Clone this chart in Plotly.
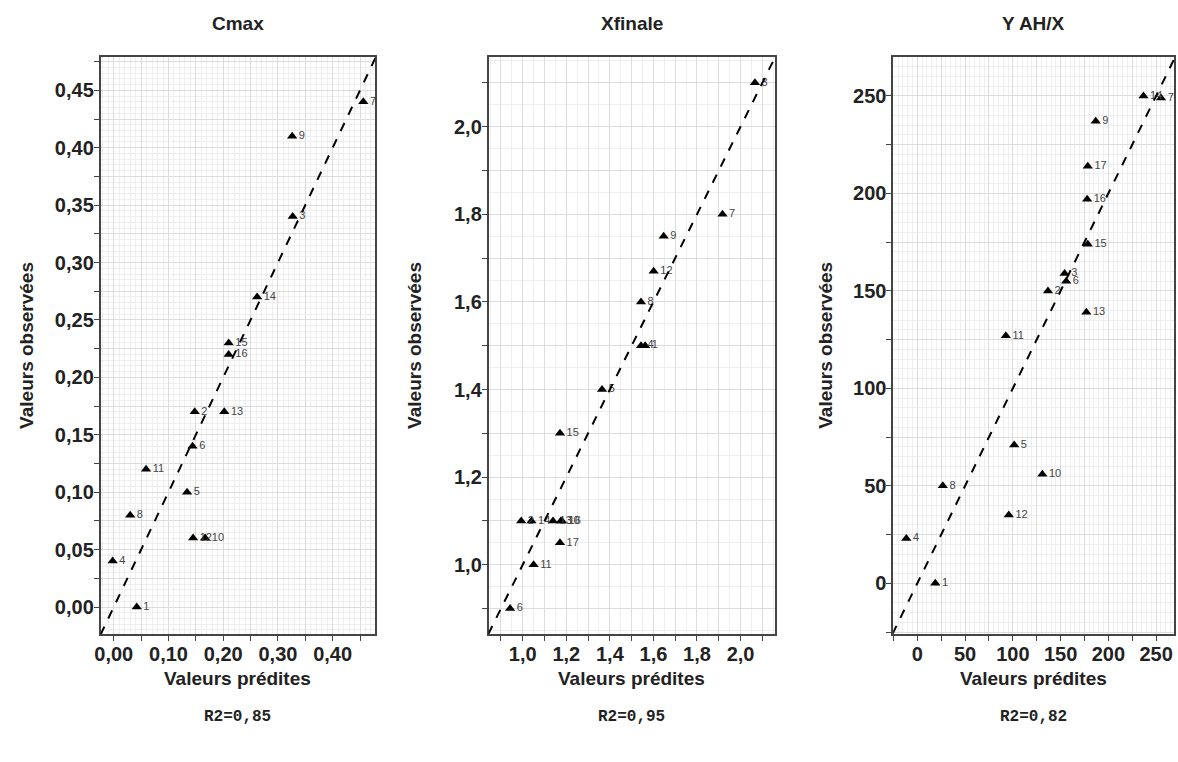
import plotly.graph_objects as go

# Cmax
cmax_ids = ["1", "2", "3", "4", "5", "6", "7", "8", "9", "10", "11", "12", "13", "14", "15", "16"]
cmax_pred = [0.042, 0.148, 0.327, -0.002, 0.134, 0.144, 0.456, 0.030, 0.326, 0.167, 0.059, 0.145, 0.202, 0.262, 0.210, 0.210]
cmax_obs = [0.00, 0.17, 0.34, 0.04, 0.10, 0.14, 0.44, 0.08, 0.41, 0.06, 0.12, 0.06, 0.17, 0.27, 0.23, 0.22]

# Xfinale
xf_ids = ["1", "2", "3", "4", "5", "6", "7", "8", "9", "10", "11", "12", "13", "14", "15", "16", "17"]
xf_pred = [1.562, 0.993, 2.066, 1.543, 1.364, 0.942, 1.917, 1.543, 1.647, 1.175, 1.050, 1.601, 1.139, 1.040, 1.171, 1.180, 1.171]
xf_obs = [1.50, 1.10, 2.10, 1.50, 1.40, 0.90, 1.80, 1.60, 1.75, 1.10, 1.00, 1.67, 1.10, 1.10, 1.30, 1.10, 1.05]

# Y AH/X
y_ids = ["1", "2", "3", "4", "5", "6", "7", "8", "9", "10", "11", "12", "13", "14", "15", "16", "17"]
y_pred = [18.8, 136.8, 154.2, -11.5, 101.4, 155.9, 255.2, 26.7, 186.8, 130.9, 92.7, 95.8, 177.0, 236.8, 178.5, 177.8, 178.5]
y_obs = [0, 150, 159, 23, 71, 155, 249, 50, 237, 56, 127, 35, 139, 250, 174, 197, 214]

titles = ["Cmax", "Xfinale", "Y AH/X"]
r2_texts = ["R2=0,85", "R2=0,95", "R2=0,82"]

# tick values / labels
cmax_xticks = [0.00, 0.05, 0.10, 0.15, 0.20, 0.25, 0.30, 0.35, 0.40, 0.45]
cmax_xlabels = ["0,00", "", "0,10", "", "0,20", "", "0,30", "", "0,40", ""]
cmax_yticks = [0.0, 0.025, 0.05, 0.075, 0.10, 0.125, 0.15, 0.175, 0.20, 0.225, 0.25,
               0.275, 0.30, 0.325, 0.35, 0.375, 0.40, 0.425, 0.45, 0.475]
cmax_ylabels = ["0,00", "", "0,05", "", "0,10", "", "0,15", "", "0,20", "", "0,25",
                "", "0,30", "", "0,35", "", "0,40", "", "0,45", ""]
xf_ticks = [0.9, 1.0, 1.1, 1.2, 1.3, 1.4, 1.5, 1.6, 1.7, 1.8, 1.9, 2.0, 2.1]
xf_labels = ["", "1,0", "", "1,2", "", "1,4", "", "1,6", "", "1,8", "", "2,0", ""]
y_xticks = [-25, 0, 25, 50, 75, 100, 125, 150, 175, 200, 225, 250]
y_xlabels = ["", "0", "", "50", "", "100", "", "150", "", "200", "", "250"]
y_yticks = [-25, 0, 25, 50, 75, 100, 125, 150, 175, 200, 225, 250]
y_ylabels = ["", "0", "", "50", "", "100", "", "150", "", "200", "", "250"]

W, H = 1178, 762
panels = [
    dict(ids=cmax_ids, x=cmax_pred, y=cmax_obs, xr=[-0.0242, 0.4776], yr=[-0.0235, 0.479],
         xt=cmax_xticks, xl=cmax_xlabels, yt=cmax_yticks, yl=cmax_ylabels,
         xminor=0.01, yminor=0.005, px=(95, 371), ytitle_x=20),
    dict(ids=xf_ids, x=xf_pred, y=xf_obs, xr=[0.843, 2.157], yr=[0.842, 2.159],
         xt=xf_ticks, xl=xf_labels, yt=xf_ticks, yl=xf_labels,
         xminor=0.05, yminor=0.05, px=(485, 772.7), ytitle_x=410),
    dict(ids=y_ids, x=y_pred, y=y_obs, xr=[-25.3, 269.1], yr=[-26.0, 270.0],
         xt=y_xticks, xl=y_xlabels, yt=y_yticks, yl=y_ylabels,
         xminor=5, yminor=5, px=(891.7, 1174.3), ytitle_x=823),
]

top, bottom = 57, 634
bold = dict(family="Liberation Sans, Arial", weight="bold", color="#222")

fig = go.Figure()
layout = dict(width=W, height=H, margin=dict(l=0, r=0, t=0, b=0),
              paper_bgcolor="white", plot_bgcolor="white", showlegend=False)
annotations = []
shapes = []

def label(text, x, y, font, angle=0):
    return dict(text=text, x=x, y=y, xref="paper", yref="paper", showarrow=False,
                xanchor="center", yanchor="middle", textangle=angle, font=font)

for i, p in enumerate(panels):
    n = "" if i == 0 else str(i + 1)
    xa, ya = "x" + n, "y" + n
    fig.add_trace(go.Scatter(
        x=p["x"], y=p["y"], text=p["ids"], mode="markers+text",
        marker=dict(symbol="triangle-up", size=9, color="black"),
        textposition="middle right", textfont=dict(family="Liberation Sans, Arial", size=11, color="#444"),
        xaxis=xa, yaxis=ya, cliponaxis=False))
    dom_x = [p["px"][0] / W, p["px"][1] / W]
    dom_y = [1 - bottom / H, 1 - top / H]
    common = dict(showline=True, mirror=True, linecolor="#444", linewidth=1.5,
                  ticks="outside", ticklen=5, tickcolor="#444", zeroline=False,
                  showgrid=True, gridcolor="#dcdcdc", gridwidth=1,
                  tickfont=dict(size=20, **bold), ticklabelstandoff=-4)
    layout["xaxis" + n] = dict(common, domain=dom_x, range=p["xr"], anchor=ya,
                               tickmode="array", tickvals=p["xt"], ticktext=p["xl"],
                               minor=dict(dtick=p["xminor"], showgrid=True, gridcolor="#eeeeee", ticks=""))
    layout["yaxis" + n] = dict(common, domain=dom_y, range=p["yr"], anchor=xa,
                               tickmode="array", tickvals=p["yt"], ticktext=p["yl"],
                               minor=dict(dtick=p["yminor"], showgrid=True, gridcolor="#eeeeee", ticks=""))
    # y = x reference line
    lo = min(p["xr"][0], p["yr"][0])
    hi = max(p["xr"][1], p["yr"][1])
    shapes.append(dict(type="line", xref=xa, yref=ya, x0=lo, y0=lo, x1=hi, y1=hi,
                       line=dict(color="black", width=2, dash="dash")))
    cx = (dom_x[0] + dom_x[1]) / 2
    annotations.append(label(titles[i], cx, 1 - 23 / H, dict(size=19, **bold)))
    annotations.append(label("Valeurs prédites", cx, 1 - 678 / H, dict(size=19, **bold)))
    annotations.append(label("Valeurs observées", p["ytitle_x"] / W, 1 - 345 / H, dict(size=19, **bold), -90))
    annotations.append(label(r2_texts[i], cx, 1 - 717 / H,
                             dict(family="Liberation Mono, Courier New", size=16, weight="bold", color="#222")))

layout["annotations"] = annotations
layout["shapes"] = shapes
fig.update_layout(**layout)
fig.write_html("out.html", config={"displayModeBar": False},
               post_script="document.body.style.margin='0';document.body.style.overflow='hidden';")
